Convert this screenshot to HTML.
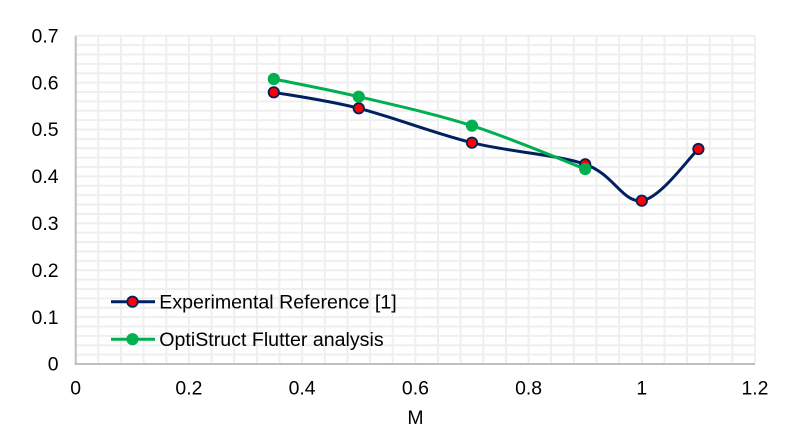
<!DOCTYPE html>
<html>
<head>
<meta charset="utf-8">
<style>
html,body{margin:0;padding:0;background:#fff;}
svg{display:block;}
text{font-family:"Liberation Sans",Arial,sans-serif;fill:#000;}
</style>
</head>
<body>
<svg width="800" height="440" viewBox="0 0 800 440" xmlns="http://www.w3.org/2000/svg">
<rect width="800" height="440" fill="#fff"/>
<g id="grid" stroke="#EFEFEF" stroke-width="2">
</g>
<script>
(function(){
  var g=document.getElementById('grid');var ns='http://www.w3.org/2000/svg';
  var x0=75.7,x1=755,y0=364,y1=35.7;
  for(var k=1;k<=30;k++){var x=x0+k*(x1-x0)/30;var l=document.createElementNS(ns,'line');l.setAttribute('x1',x);l.setAttribute('x2',x);l.setAttribute('y1',y1);l.setAttribute('y2',y0);g.appendChild(l);}
  for(var k=1;k<=35;k++){var y=y0-k*(y0-y1)/35;var l=document.createElementNS(ns,'line');l.setAttribute('x1',x0);l.setAttribute('x2',x1);l.setAttribute('y1',y);l.setAttribute('y2',y);g.appendChild(l);}
})();
</script>
<!-- axes -->
<line x1="75.7" y1="35.7" x2="75.7" y2="364.5" stroke="#BFBFBF" stroke-width="2"/>
<line x1="74.7" y1="364" x2="755" y2="364" stroke="#BFBFBF" stroke-width="2"/>

<!-- y labels -->
<g font-size="19.4" text-anchor="end">
<text x="58.5" y="42.4">0.7</text>
<text x="58.5" y="89.3">0.6</text>
<text x="58.5" y="136.2">0.5</text>
<text x="58.5" y="183.1">0.4</text>
<text x="58.5" y="230.0">0.3</text>
<text x="58.5" y="276.9">0.2</text>
<text x="58.5" y="323.8">0.1</text>
<text x="58.5" y="370.7">0</text>
</g>
<!-- x labels -->
<g font-size="19.4" text-anchor="middle">
<text x="75.7" y="394.3">0</text>
<text x="188.9" y="394.3">0.2</text>
<text x="302.1" y="394.3">0.4</text>
<text x="415.4" y="394.3">0.6</text>
<text x="528.6" y="394.3">0.8</text>
<text x="641.8" y="394.3">1</text>
<text x="755" y="394.3">1.2</text>
<text x="415.5" y="424">M</text>
</g>

<!-- Experimental series -->
<path d="M273.8,92.3 C287.96,94.97 325.72,99.9 358.75,108.3 C391.78,116.7 434.23,133.37 471.97,142.7 C509.71,152.03 556.89,154.63 585.2,164.3 C613.51,173.97 622.93,203.25 641.8,200.7 C660.67,198.15 688.97,157.62 698.4,149" fill="none" stroke="#002060" stroke-width="3" stroke-linejoin="round" stroke-linecap="round"/>
<g fill="#FF0000" stroke="#002060" stroke-width="1.8">
<circle cx="273.8" cy="92.3" r="5.2"/>
<circle cx="358.75" cy="108.3" r="5.2"/>
<circle cx="471.97" cy="142.7" r="5.2"/>
<circle cx="585.2" cy="164.3" r="5.2"/>
<circle cx="641.8" cy="200.7" r="5.2"/>
<circle cx="698.4" cy="149" r="5.2"/>
</g>

<!-- OptiStruct series -->
<path d="M273.8,79 C287.96,81.95 325.72,88.92 358.75,96.7 C391.78,104.48 434.23,113.65 471.97,125.7 C509.71,137.75 566.33,161.78 585.2,169" fill="none" stroke="#00B050" stroke-width="3" stroke-linejoin="round" stroke-linecap="round"/>
<g fill="#00B050" stroke="#00B050" stroke-width="1.4">
<circle cx="273.8" cy="79" r="5.4"/>
<circle cx="358.75" cy="96.7" r="5.4"/>
<circle cx="471.97" cy="125.7" r="5.4"/>
<circle cx="585.2" cy="169" r="5.4"/>
</g>

<!-- legend -->
<line x1="111" y1="301.7" x2="155" y2="301.7" stroke="#002060" stroke-width="3"/>
<circle cx="132.5" cy="301.7" r="5.2" fill="#FF0000" stroke="#002060" stroke-width="1.8"/>
<text x="159.3" y="308.7" font-size="19.6">Experimental Reference [1]</text>
<line x1="111" y1="339.2" x2="155" y2="339.2" stroke="#00B050" stroke-width="3"/>
<circle cx="132.5" cy="339.2" r="5.4" fill="#00B050" stroke="#00B050" stroke-width="1.4"/>
<text x="159.3" y="346.2" font-size="19.6">OptiStruct Flutter analysis</text>
</svg>
</body>
</html>
